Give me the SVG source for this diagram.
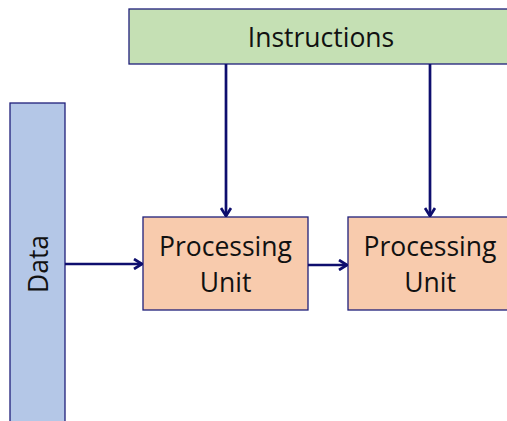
<svg xmlns="http://www.w3.org/2000/svg" width="507" height="421" viewBox="0 0 507 421">
<style>
.box{stroke:#1f1f7a;stroke-width:1.3}
.t{font-family:"Open Sans","Noto Sans","Liberation Sans",sans-serif;font-size:26.5px;fill:#111;text-anchor:middle}
.c{stroke:#0e0e6e;stroke-width:2.7;fill:none}
</style>
<defs>
<marker id="a" viewBox="0 0 12 12" refX="11" refY="6" markerWidth="12" markerHeight="12" markerUnits="userSpaceOnUse" orient="auto">
<path d="M3,1 L11,6 L3,11" fill="none" stroke="#0e0e6e" stroke-width="2.7"/>
</marker>
</defs>
<rect width="507" height="421" fill="#fff"/>
<g id="instructions"><rect class="box" x="129" y="9" width="385" height="55" fill="#C5E0B4"/><text class="t" x="321" y="47">Instructions</text></g>
<g id="data"><rect class="box" x="10" y="103" width="55" height="330" fill="#B4C7E7"/><text class="t" transform="translate(48,264) rotate(-90)">Data</text></g>
<g id="pu1"><rect class="box" x="143" y="217" width="165" height="93" fill="#F8CBAD"/><text class="t" x="225.5" y="256">Processing</text><text class="t" x="225.5" y="292">Unit</text></g>
<g id="pu2"><rect class="box" x="348" y="217" width="165" height="93" fill="#F8CBAD"/><text class="t" x="430" y="256">Processing</text><text class="t" x="430" y="292">Unit</text></g>
<g id="connectors">
<path class="c" d="M226,64 V216" marker-end="url(#a)"/>
<path class="c" d="M430,64 V216" marker-end="url(#a)"/>
<path class="c" d="M65,264 H142" marker-end="url(#a)"/>
<path class="c" d="M308,265 H347" marker-end="url(#a)"/>
</g>
</svg>
